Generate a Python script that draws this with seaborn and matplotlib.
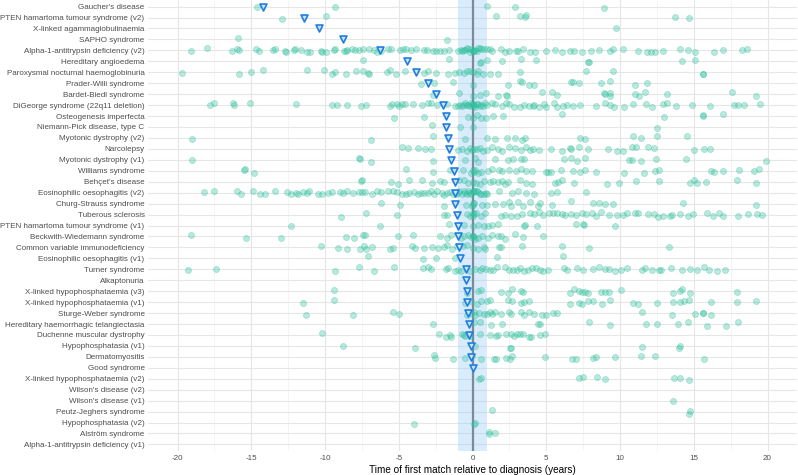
import numpy as np
import pandas as pd
import matplotlib
matplotlib.use("Agg")
import matplotlib.pyplot as plt
from matplotlib.ticker import MultipleLocator
import seaborn as sns

diseases = [
    "Gaucher's disease", "PTEN hamartoma tumour syndrome (v2)", "X-linked agammaglobulinaemia",
    "SAPHO syndrome", "Alpha-1-antitrypsin deficiency (v2)", "Hereditary angioedema",
    "Paroxysmal nocturnal haemoglobinuria", "Prader-Willi syndrome", "Bardet-Biedl syndrome",
    "DiGeorge syndrome (22q11 deletion)", "Osteogenesis imperfecta", "Niemann-Pick disease, type C",
    "Myotonic dystrophy (v2)", "Narcolepsy", "Myotonic dystrophy (v1)", "Williams syndrome",
    "Behçet's disease", "Eosinophilic oesophagitis (v2)", "Churg-Strauss syndrome",
    "Tuberous sclerosis", "PTEN hamartoma tumour syndrome (v1)", "Beckwith-Wiedemann syndrome",
    "Common variable immunodeficiency", "Eosinophilic oesophagitis (v1)", "Turner syndrome",
    "Alkaptonuria", "X-linked hypophosphataemia (v3)", "X-linked hypophosphataemia (v1)",
    "Sturge-Weber syndrome", "Hereditary haemorrhagic telangiectasia", "Duchenne muscular dystrophy",
    "Hypophosphatasia (v1)", "Dermatomyositis", "Good syndrome", "X-linked hypophosphataemia (v2)",
    "Wilson's disease (v2)", "Wilson's disease (v1)", "Peutz-Jeghers syndrome",
    "Hypophosphatasia (v2)", "Alström syndrome", "Alpha-1-antitrypsin deficiency (v1)",
]

medians = [-14.2, -11.4, -10.4, -8.8, -6.27, -4.47, -3.84, -3.03, -2.5, -1.98, -1.78, -1.78,
           -1.66, -1.57, -1.44, -1.24, -1.22, -1.17, -1.17, -1.04, -0.98, -0.97, -0.91, -0.86,
           -0.44, -0.44, -0.37, -0.34, -0.3, -0.24, -0.22, -0.12, -0.11, 0.0,
           np.nan, np.nan, np.nan, np.nan, np.nan, np.nan, np.nan]

gaucher = [-14.6, -9.3, 1.0, 2.9, 8.9]
pten_v2 = [-12.9, -9.9, 1.6, 3.2, 3.55, 3.6, 13.7, 14.65]
xla = [9.7]
sapho = [-15.9, -1.75]
a1at_v2 = [-19.1, -18.0, -16.3, -16.0, -15.8, -14.7, -14.5, -13.5, -13.4, -12.7, -12.65, -12.1,
           -12.05, -11.6, -11.2, -11.0, -10.3, -10.2, -9.9, -9.4, -9.3, -8.7, -8.6, -8.5, -8.2,
           -8.0, -7.7, -7.4, -7.0, -6.7, -6.5, -6.2, -5.7, -5.5, -4.9, -4.7, -4.5, -4.2, -3.8,
           -3.3, -3.1, -2.7, -2.5, -2.2, -1.9, -1.6, -1.0, -0.8, -0.7, -0.6, -0.5, -0.4, -0.3,
           -0.2, -0.1, 0.0, 0.0, 0.1, 0.2, 0.3, 0.4, 0.5, 0.6, 0.8, 1.0, 1.2, 1.3, 1.9, 2.2,
           2.5, 2.95, 3.1, 3.45, 3.9, 4.25, 5.0, 5.6, 6.1, 6.6, 6.9, 7.4, 8.0, 8.6, 9.3, 9.5,
           10.2, 11.2, 11.8, 12.1, 12.4, 12.9, 14.1, 14.6, 15.1, 16.4, 16.95, 18.3, 18.6]
hae = [-7.4, -1.6, 0.5, 0.55, 1.0, 2.0, 3.3, 4.3, 7.8, 7.9, 14.2, 15.1]
pnh = [-19.7, -15.85, -15.0, -14.2, -11.2, -10.1, -9.5, -9.3, -8.6, -7.9, -7.45, -7.1, -7.0,
       -5.8, -5.6, -5.2, -4.6, -3.3, -3.0, -2.5, -1.65, -1.2, -0.9, -0.6, -0.4, -0.2, 0.0,
       0.3, 0.4, 0.7, 1.2, 1.7, 3.2, 7.7, 9.5, 15.6, 15.65]
prader_willi = [-3.5, -2.6, -1.35, 0.0, 2.4, 3.2, 3.35, 3.8, 4.2, 6.7, 6.8, 7.2, 8.7, 9.3,
                11.0, 11.8]
bardet_biedl = [-2.7, -0.9, 0.0, 0.5, 0.9, 1.7, 2.3, 2.35, 4.7, 5.4, 5.7, 8.9, 8.95, 9.3,
                9.35, 11.0, 11.3, 11.7, 13.2, 17.6, 19.2]
digeorge = [-17.8, -17.5, -16.25, -16.2, -15.1, -11.95, -9.5, -9.2, -8.5, -7.55, -7.25, -5.6,
            -5.45, -5.1, -4.95, -4.8, -4.6, -4.05, -3.4, -3.0, -2.8, -2.4, -1.7, -1.2, -1.0,
            -0.85, -0.7, -0.6, -0.5, -0.4, -0.3, -0.2, -0.1, 0.0, 0.0, 0.05, 0.1, 0.2, 0.3,
            0.4, 0.5, 0.6, 0.7, 0.85, 1.0, 1.3, 1.5, 2.0, 2.3, 2.5, 2.8, 3.2, 3.5, 3.8, 4.1,
            4.2, 4.5, 4.85, 5.0, 5.5, 5.7, 6.15, 6.4, 6.8, 7.3, 8.4, 9.0, 9.35, 9.6, 10.3,
            10.9, 11.75, 12.2, 12.9, 13.2, 13.8, 14.9, 16.1, 17.7, 18.0, 18.4, 19.5]
osteogenesis = [-5.35, -3.3, -0.3, 0.05, 0.3, 0.6, 0.9, 1.4, 2.05, 6.1, 13.0, 15.6, 15.65, 17.0]
niemann_pick = [-2.75, -0.85, 0.0, 12.5]
myotonic_v2 = [-19.0, -6.9, -2.7, -0.5, 1.0, 1.5, 2.35, 2.85, 3.35, 3.55, 7.3, 7.6, 10.85,
               11.45, 12.5, 14.55]
narcolepsy = [-4.8, -4.4, -3.7, -3.2, -2.8, -1.0, -0.7, -0.4, -0.2, -0.05, 0.1, 0.3, 0.5,
              0.7, 1.0, 1.3, 1.7, 2.0, 2.5, 2.9, 3.3, 3.6, 3.9, 4.1, 4.5, 5.3, 6.05, 6.6,
              6.7, 7.2, 7.8, 9.2, 9.8, 10.2, 10.8, 11.1, 11.9, 12.3, 15.0, 15.7, 16.1]
myotonic_v1 = [-19.0, -7.7, -7.6, -6.9, -2.7, -0.5, 0.15, 0.4, 1.5, 2.4, 2.75, 3.3, 3.5, 6.2,
               6.7, 7.1, 7.6, 10.6, 10.8, 11.4, 12.45, 14.5, 19.9]
williams = [-15.5, -15.45, -14.8, -4.5, -2.65, -1.55, -0.65, -0.1, 0.0, 0.1, 0.2, 0.4, 0.6,
            1.05, 1.3, 1.8, 2.0, 2.5, 2.95, 3.3, 3.65, 4.05, 4.95, 5.1, 5.35, 6.0, 6.8, 7.3,
            7.6, 8.4, 10.3, 11.6, 12.35, 12.65, 16.2, 16.35, 17.0, 18.1, 19.1, 19.4]
behcet = [-7.55, -7.5, -5.5, -5.05, -4.3, -3.45, -2.75, -2.2, -1.9, -0.9, -0.6, -0.3, 0.0,
          0.25, 0.5, 0.8, 1.2, 1.4, 1.7, 2.0, 2.2, 2.4, 3.25, 3.65, 4.05, 5.6, 5.8, 6.1, 6.85,
          9.1, 9.95, 11.1, 12.65, 14.75, 15.0, 15.2, 15.8, 17.9, 19.2]
eoe_v2 = [-18.2, -17.5, -16.0, -15.7, -14.9, -14.4, -14.1, -13.4, -12.6, -12.3, -12.0, -11.8,
          -11.5, -11.2, -11.1, -10.5, -10.2, -9.8, -9.5, -9.0, -8.8, -8.5, -8.1, -7.7, -7.5,
          -7.3, -6.8, -6.5, -6.2, -5.7, -5.4, -5.1, -4.8, -4.5, -4.3, -4.0, -3.7, -3.5, -3.3,
          -3.0, -2.8, -2.6, -2.4, -2.1, -1.9, -1.7, -1.5, -1.3, -1.1, -1.0, -0.9, -0.7, -0.6,
          -0.5, -0.4, -0.3, -0.2, -0.1, 0.0, 0.0, 0.1, 0.2, 0.3, 0.4, 0.5, 0.6, 0.8, 0.9, 1.0,
          1.8, 2.7, 3.1, 3.6, 4.2, 5.3, 5.7, 7.7]
churg_strauss = [-6.2, -4.9, -1.9, -0.45, -0.05, 0.0, 0.05, 0.1, 0.65, 0.95, 1.5, 2.1, 2.5,
                 2.6, 3.1, 3.4, 3.9, 4.45, 4.6, 5.4, 6.65, 8.2, 8.6, 9.0, 9.5, 14.3, 19.2]
tuberous = [-8.9, -7.2, -5.1, -1.95, -1.7, -0.4, -0.15, 0.0, 0.05, 0.1, 0.25, 0.6, 0.85, 1.9,
            2.2, 2.6, 3.0, 3.35, 3.9, 4.15, 4.5, 4.8, 5.2, 5.45, 5.7, 6.05, 6.3, 6.65, 7.05,
            7.45, 7.7, 8.1, 8.35, 8.7, 9.25, 9.8, 10.2, 10.45, 11.0, 11.25, 11.9, 12.3, 12.6,
            12.9, 13.4, 13.5, 14.1, 14.6, 14.95, 15.9, 16.3, 16.7, 17.0, 18.0, 18.7, 19.3, 19.6]
pten_v1 = [-12.3, -6.25, -1.6, -0.57, 0.0, 0.4, 0.8, 1.05, 1.3, 1.75, 3.5, 3.55, 4.35, 7.0,
           7.5, 7.55, 9.65]
beckwith = [-19.1, -15.35, -12.95, -8.55, -8.05, -7.4, -7.3, -5.05, -4.05, -2.2, -1.7, -1.45,
            -0.8, -0.55, -0.3, -0.1, 0.0, 0.05, 0.1, 0.2, 0.4, 0.65, 1.05, 1.3, 1.7, 1.95, 2.2,
            2.9, 3.4, 4.8]
cvid = [-10.3, -9.1, -8.5, -7.6, -7.35, -7.2, -6.8, -5.6, -5.4, -4.1, -3.9, -3.3, -2.75,
        -2.35, -1.9, -1.7, -1.4, -1.05, -0.65, -0.4, 0.0, 0.4, 0.8, 0.85, 1.8, 1.95, 3.35,
        6.05, 7.9, 13.3]
eoe_v1 = [-7.1, -3.35, -2.5, -1.2, 1.65, 6.15]
turner = [-19.3, -17.4, -9.3, -7.7, -6.65, -5.35, -3.35, -3.05, -2.8, -1.8, -1.65, -1.2, -1.0,
          -0.75, -0.2, 0.15, 0.5, 0.65, 0.9, 1.2, 1.4, 1.65, 2.2, 2.5, 2.75, 3.0, 3.25, 3.5,
          3.75, 4.0, 4.3, 4.55, 4.8, 5.1, 6.2, 6.4, 7.1, 7.5, 8.2, 8.6, 9.0, 9.25, 9.65,
          10.05, 10.45, 11.5, 11.7, 12.2, 12.65, 12.8, 13.45, 14.2, 14.75, 15.2, 15.7, 16.05,
          16.55, 17.1]
alkaptonuria = []
xlh_v3 = [-9.4, -0.4, 0.4, 0.55, 1.9, 2.4, 2.65, 3.3, 3.45, 6.6, 6.9, 7.2, 7.4, 7.65, 7.8,
          8.7, 9.0, 9.25, 10.1, 13.6, 14.1, 14.2, 14.75, 17.9]
xlh_v1 = [-11.5, -9.4, -0.5, -0.1, 0.3, 0.6, 0.95, 1.2, 2.4, 2.65, 3.3, 3.5, 3.8, 6.6, 7.2,
          7.4, 7.8, 8.2, 8.8, 9.3, 10.85, 11.2, 12.5, 13.6, 14.1, 14.35, 14.7, 16.2, 17.9, 19.2]
sturge_weber = [-11.3, -8.1, -5.4, -5.0, -0.4, -0.1, 0.1, 0.2, 0.45, 0.75, 1.0, 1.2, 1.35,
                1.5, 1.95, 2.5, 2.6, 3.3, 3.5, 3.85, 4.2, 4.7, 5.0, 5.45, 5.7, 11.5, 13.5,
                15.1, 15.6, 15.65, 16.2]
hht = [-2.7, 0.1, 0.5, 1.25, 2.0, 4.45, 4.55, 7.9, 9.3, 11.75, 12.5, 13.95, 14.6, 15.9, 17.2,
       18.0]
duchenne = [-10.2, -2.25, -1.8, -1.5, -1.45, -0.7, -0.6, -0.5, -0.2, 0.5, 1.2, 1.6, 1.75, 2.3,
            2.6, 2.8, 3.05, 3.2, 3.4, 3.8, 3.95, 4.6, 4.9]
hypophosphatasia_v1 = [-8.75, -3.9, 0.15, 2.55, 2.6, 11.5, 14.0, 14.05]
dermatomyositis = [-2.6, -2.55, -1.3, -0.5, -0.05, 0.55, 1.45, 1.6, 2.25, 2.55, 2.65, 4.9,
                   6.75, 7.0, 8.2, 8.35, 9.65, 11.45, 12.4, 15.7]
good_syndrome = []
xlh_v2 = [0.45, 0.55, 7.2, 7.5, 8.45, 9.0, 13.65, 14.1, 14.7]
wilson_v2 = []
wilson_v1 = [13.6]
peutz_jeghers = [1.3, 14.7, 14.75]
hypophosphatasia_v2 = [-3.95, 0.1, 0.15]
alstrom = [1.1, 1.15, 1.55]
a1at_v1 = []

series = [gaucher, pten_v2, xla, sapho, a1at_v2, hae, pnh, prader_willi, bardet_biedl,
          digeorge, osteogenesis, niemann_pick, myotonic_v2, narcolepsy, myotonic_v1, williams,
          behcet, eoe_v2, churg_strauss, tuberous, pten_v1, beckwith, cvid, eoe_v1, turner,
          alkaptonuria, xlh_v3, xlh_v1, sturge_weber, hht, duchenne, hypophosphatasia_v1,
          dermatomyositis, good_syndrome, xlh_v2, wilson_v2, wilson_v1, peutz_jeghers,
          hypophosphatasia_v2, alstrom, a1at_v1]

points = pd.DataFrame(
    [(d, v) for d, vals in zip(diseases, series) for v in vals],
    columns=["disease", "years"],
)
meds = pd.DataFrame({"disease": diseases, "years": medians}).dropna()

sns.set_theme(style="white")
plt.rcParams["font.family"] = ["Liberation Sans", "DejaVu Sans"]
plt.rcParams["axes.unicode_minus"] = False

fig = plt.figure(figsize=(7.98, 4.75), dpi=100)
ax = fig.add_axes([148 / 798, 1 - 451 / 475, (797 - 148) / 798, 451 / 475])

ax.axvspan(-1, 1, color="#90CAF9", alpha=0.35, lw=0, zorder=1)
ax.axvline(0, color="#7d8b99", lw=1.6, zorder=2)

np.random.seed(3)
sns.stripplot(data=points, x="years", y="disease", order=diseases, orient="h",
              jitter=0.2, size=4.3, color="#34c6a3", alpha=0.35,
              edgecolor="#2bb893", linewidth=0.6, ax=ax, zorder=3)
sns.stripplot(data=meds, x="years", y="disease", order=diseases, orient="h",
              jitter=False, size=5.0, marker="v", color="#cfe5fb",
              edgecolor="#1e7fe0", linewidth=1.2, ax=ax, zorder=4)

ax.set_xlim(-22, 22)
ax.set_ylim(len(diseases) - 0.4, -0.6)
ax.xaxis.set_major_locator(MultipleLocator(5))
ax.xaxis.set_minor_locator(MultipleLocator(2.5))
ax.grid(which="major", axis="both", color="#e6e6e6", lw=0.8, zorder=0)
ax.grid(which="minor", axis="x", color="#f0f0f0", lw=0.5, zorder=0)
ax.set_axisbelow(True)
for s in ax.spines.values():
    s.set_visible(False)
ax.tick_params(axis="y", which="both", length=0, labelsize=5.75, colors="#4d4d4d", pad=2.5)
ax.tick_params(axis="x", which="both", length=0, labelsize=5.75, colors="#4d4d4d", pad=3)
ax.set_ylabel("")
ax.set_xlabel("Time of first match relative to diagnosis (years)", fontsize=7.2,
              color="black", labelpad=2)

fig.savefig("out.png", dpi=100)
